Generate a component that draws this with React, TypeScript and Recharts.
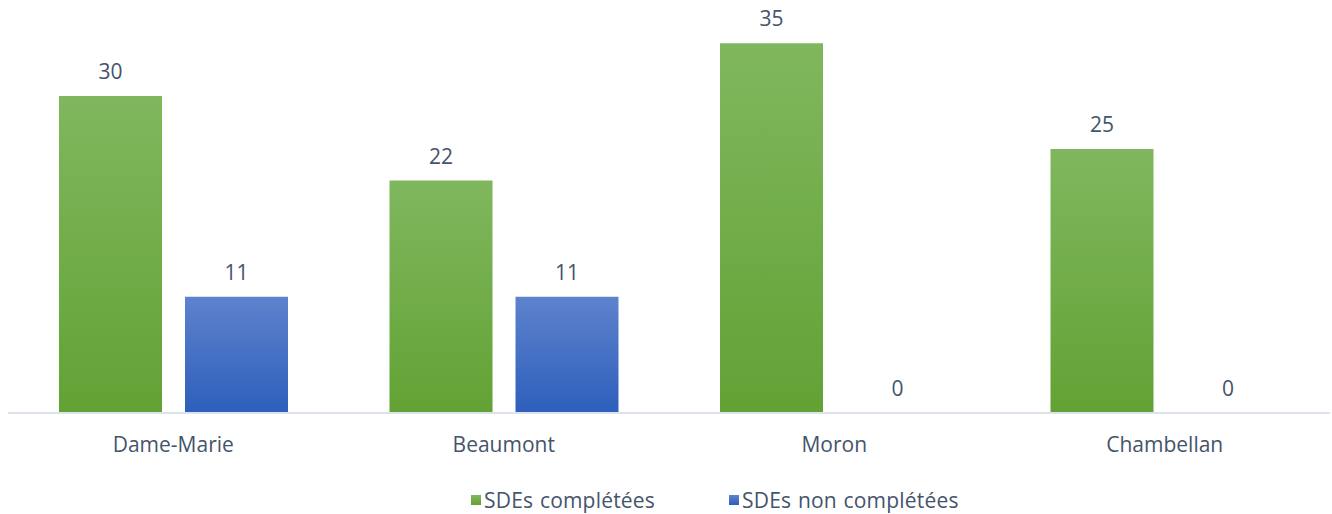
import React from "react"
import { BarChart, Bar, XAxis, YAxis, Legend, LabelList } from "recharts"

const categories = ["Dame-Marie", "Beaumont", "Moron", "Chambellan"]
const completed = [30, 22, 35, 25]
const notCompleted = [11, 11, 0, 0]
const seriesNames = ["SDEs complétées", "SDEs non complétées"]

const data = categories.map((name, i) => ({
  name,
  completed: completed[i],
  notCompleted: notCompleted[i],
}))

const textColor = "#44546a"
const font = "'Open Sans', sans-serif"
const fontSize = 21

// zero-height bars still need their "0" label, so draw labels by hand
const valueLabel = (props: any) => {
  const { x, y, width, height, value } = props
  const top = Number(y) + Math.min(0, Number(height))
  return (
    <text
      x={Number(x) + Number(width) / 2}
      y={top - 17}
      textAnchor="middle"
      fill={textColor}
      fontSize={fontSize}
      fontFamily={font}
    >
      {value}
    </text>
  )
}

// keep a hair-thin rect for zero values so its label is still drawn
const tinyForZero = (value: any) => (Number(value) === 0 ? 0.01 : 0)

function LegendBox() {
  const items = [
    { label: seriesNames[0], bg: "linear-gradient(#80b75e, #62a234)", w: 258 },
    { label: seriesNames[1], bg: "linear-gradient(#5e82cd, #2d5fbb)", w: 260 },
  ]
  return (
    <div style={{ height: 41, display: "flex", alignItems: "center", paddingTop: 12, paddingLeft: 463, boxSizing: "border-box" }}>
      {items.map((it) => (
        <div key={it.label} style={{ display: "flex", alignItems: "center", gap: 3, width: it.w }}>
          <span style={{ width: 10, height: 10, background: it.bg, display: "inline-block" }} />
          <span style={{ color: textColor, fontSize, fontFamily: font, letterSpacing: 0.2, wordSpacing: 1 }}>{it.label}</span>
        </div>
      ))}
    </div>
  )
}

export default function App() {
  return (
    <div style={{ position: "absolute", left: 0, top: 0, width: 1332, height: 514, background: "#fff" }}>
      <BarChart
        width={1332}
        height={514}
        data={data}
        margin={{ top: 1, right: 2, left: 8, bottom: 0 }}
        barSize={103}
        barGap={23}
      >
        <defs>
          <linearGradient id="gGreen" x1="0" y1="0" x2="0" y2="1">
            <stop offset="0%" stopColor="#80b75e" />
            <stop offset="100%" stopColor="#62a234" />
          </linearGradient>
          <linearGradient id="gBlue" x1="0" y1="0" x2="0" y2="1">
            <stop offset="0%" stopColor="#5e82cd" />
            <stop offset="100%" stopColor="#2d5fbb" />
          </linearGradient>
        </defs>
        <XAxis
          dataKey="name"
          height={60}
          tickLine={false}
          tickSize={0}
          tickMargin={24}
          axisLine={{ stroke: "#dde3ea", strokeWidth: 2 }}
          tick={{ fill: textColor, fontSize, fontFamily: font }}
        />
        <YAxis hide domain={[0, 39]} />
        <Legend verticalAlign="bottom" height={41} content={() => <LegendBox />} />
        <Bar dataKey="completed" name={seriesNames[0]} fill="url(#gGreen)" isAnimationActive={false}>
          <LabelList dataKey="completed" content={valueLabel} />
        </Bar>
        <Bar dataKey="notCompleted" name={seriesNames[1]} fill="url(#gBlue)" minPointSize={tinyForZero} isAnimationActive={false}>
          <LabelList dataKey="notCompleted" content={valueLabel} />
        </Bar>
      </BarChart>
    </div>
  )
}
